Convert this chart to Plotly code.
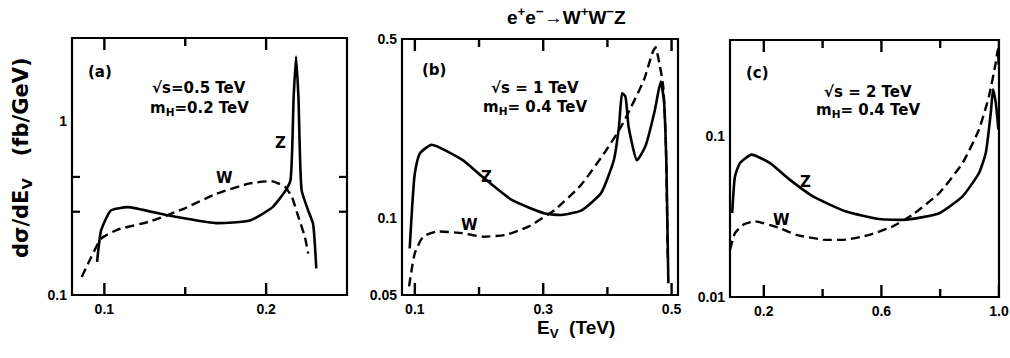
import numpy as np
import plotly.graph_objects as go

# ---------------- data ----------------
# panel (a): sqrt(s)=0.5 TeV, mH=0.2 TeV
a_z_E = [0.0955, 0.098, 0.104, 0.1145, 0.139, 0.169, 0.190, 0.204, 0.212, 0.215, 0.217, 0.2185, 0.220, 0.222, 0.226, 0.229, 0.231]
a_z_v = [0.155, 0.235, 0.306, 0.320, 0.287, 0.259, 0.268, 0.320, 0.398, 0.454, 1.36, 2.35, 1.36, 0.398, 0.306, 0.257, 0.142]
a_w_E = [0.086, 0.092, 0.098, 0.108, 0.129, 0.149, 0.169, 0.190, 0.204, 0.212, 0.216, 0.220, 0.224, 0.226]
a_w_v = [0.127, 0.166, 0.211, 0.237, 0.266, 0.313, 0.381, 0.438, 0.450, 0.416, 0.365, 0.280, 0.215, 0.173]

# panel (b): sqrt(s)=1 TeV, mH=0.4 TeV
b_z_E = [0.092, 0.100, 0.108, 0.126, 0.174, 0.205, 0.251, 0.303, 0.328, 0.359, 0.390, 0.410, 0.418, 0.423, 0.428, 0.433, 0.446, 0.459, 0.474, 0.483, 0.488, 0.492, 0.495]
b_z_v = [0.076, 0.1495, 0.179, 0.193, 0.1685, 0.145, 0.1176, 0.104, 0.1027, 0.1068, 0.1249, 0.168, 0.227, 0.307, 0.298, 0.227, 0.168, 0.190, 0.264, 0.341, 0.289, 0.159, 0.0556]
b_w_E = [0.091, 0.100, 0.113, 0.133, 0.174, 0.205, 0.241, 0.277, 0.318, 0.359, 0.395, 0.420, 0.431, 0.457, 0.470, 0.475, 0.482, 0.487, 0.491, 0.494]
b_w_v = [0.054, 0.0728, 0.0845, 0.0884, 0.0872, 0.0845, 0.0858, 0.0925, 0.1075, 0.1346, 0.179, 0.224, 0.253, 0.346, 0.440, 0.464, 0.390, 0.326, 0.20, 0.07]

# panel (c): sqrt(s)=2 TeV, mH=0.4 TeV
c_z_E = [0.0925, 0.102, 0.119, 0.158, 0.220, 0.288, 0.367, 0.480, 0.593, 0.684, 0.797, 0.876, 0.932, 0.955, 0.972, 0.980, 0.989, 0.998]
c_z_v = [0.0333, 0.0565, 0.0685, 0.0772, 0.0685, 0.0539, 0.0424, 0.0341, 0.0306, 0.0303, 0.0333, 0.0424, 0.0593, 0.079, 0.1406, 0.197, 0.1624, 0.1106]
c_w_E = [0.085, 0.102, 0.130, 0.170, 0.254, 0.311, 0.401, 0.480, 0.559, 0.638, 0.706, 0.797, 0.876, 0.932, 0.966, 0.989, 0.996, 0.999]
c_w_v = [0.0197, 0.025, 0.0282, 0.0296, 0.0269, 0.0244, 0.0228, 0.0228, 0.0244, 0.0275, 0.0326, 0.0445, 0.0685, 0.1106, 0.1786, 0.289, 0.35, 0.26]

# ticks
a_xt = [0.1, 0.2]; a_xt_txt = ["0.1", "0.2"]; a_xminor = [0.15]
b_xt = [0.1, 0.3, 0.5]; b_xt_txt = ["0.1", "0.3", "0.5"]; b_xminor = [0.2, 0.4]
c_xt = [0.2, 0.6, 1.0]; c_xt_txt = ["0.2", "0.6", "1.0"]; c_xminor = [0.4, 0.8]
a_yt = [0.1, 1]; a_yt_txt = ["0.1", "1"]; a_yminor = [0.2, 0.3, 0.4, 0.5, 0.6, 0.7, 0.8, 0.9, 2, 3]
b_yt = [0.05, 0.1, 0.5]; b_yt_txt = ["0.05", "0.1", "0.5"]; b_yminor = [0.06, 0.07, 0.08, 0.09, 0.2, 0.3, 0.4]
c_yt = [0.01, 0.1]; c_yt_txt = ["0.01", "0.1"]; c_yminor = [0.02, 0.03, 0.04, 0.05, 0.06, 0.07, 0.08, 0.09, 0.2, 0.3]

labels_a = ["(a)", "√s=0.5 TeV", "m<sub>H</sub>=0.2 TeV"]
labels_b = ["(b)", "√s = 1 TeV", "m<sub>H</sub>= 0.4 TeV"]
labels_c = ["(c)", "√s = 2 TeV", "m<sub>H</sub>= 0.4 TeV"]

W, H = 1010, 358
TICKFONT = dict(family="Liberation Sans", size=14, color="black", weight="bold")
ANNFONT = "DejaVu Sans"

def px_x(p):
    return p / W

def px_y(p):
    return 1 - p / H

fig = go.Figure()

panels = [
    dict(n="", xd=(72, 347), yd=(38, 295), xr=[0.08, 0.25], yr=[0.1, 3],
         zE=a_z_E, zv=a_z_v, wE=a_w_E, wv=a_w_v,
         xt=a_xt, xtt=a_xt_txt, xm=a_xminor, yt=a_yt, ytt=a_yt_txt, ym=a_yminor),
    dict(n="2", xd=(402, 678), yd=(39, 295), xr=[0.08, 0.51], yr=[0.05, 0.5],
         zE=b_z_E, zv=b_z_v, wE=b_w_E, wv=b_w_v,
         xt=b_xt, xtt=b_xt_txt, xm=b_xminor, yt=b_yt, ytt=b_yt_txt, ym=b_yminor),
    dict(n="3", xd=(730, 999), yd=(40, 297), xr=[0.085, 1.0], yr=[0.01, 0.4],
         zE=c_z_E, zv=c_z_v, wE=c_w_E, wv=c_w_v,
         xt=c_xt, xtt=c_xt_txt, xm=c_xminor, yt=c_yt, ytt=c_yt_txt, ym=c_yminor),
]

TICK_MAJOR, TICK_MINOR = 12, 8
layout = {}
shapes = []
for p in panels:
    xa = "x" + p["n"]
    ya = "y" + p["n"]
    fig.add_trace(go.Scatter(x=p["zE"], y=p["zv"], xaxis=xa, yaxis=ya, mode="lines",
                             line=dict(color="black", width=2.6, shape="spline", smoothing=0.5),
                             showlegend=False, hoverinfo="skip"))
    fig.add_trace(go.Scatter(x=p["wE"], y=p["wv"], xaxis=xa, yaxis=ya, mode="lines",
                             line=dict(color="black", width=2.4, dash="9px,5px", shape="spline", smoothing=0.5),
                             showlegend=False, hoverinfo="skip"))
    common = dict(showgrid=False, zeroline=False, showline=False, ticks="",
                  tickfont=TICKFONT, automargin=False, ticklabelstandoff=4)
    layout["xaxis" + p["n"]] = dict(common, domain=[px_x(p["xd"][0]), px_x(p["xd"][1])],
                                    anchor=ya, range=p["xr"], tickmode="array",
                                    tickvals=p["xt"], ticktext=p["xtt"])
    layout["yaxis" + p["n"]] = dict(common, domain=[px_y(p["yd"][1]), px_y(p["yd"][0])],
                                    anchor=xa, type="log",
                                    range=[np.log10(p["yr"][0]), np.log10(p["yr"][1])],
                                    tickmode="array", tickvals=p["yt"], ticktext=p["ytt"])
    # frame
    shapes.append(dict(type="rect", xref=xa + " domain", yref=ya + " domain",
                       x0=0, x1=1, y0=0, y1=1, line=dict(color="black", width=2.2),
                       fillcolor="rgba(0,0,0,0)", layer="above"))
    # inside ticks on all four sides, at the tick values
    for vals, ln in ((p["xt"], TICK_MAJOR), (p["xm"], TICK_MINOR)):
        for v in vals:
            for side, sgn in ((0, 1), (1, -1)):
                shapes.append(dict(type="line", xref=xa, yref=ya + " domain", ysizemode="pixel",
                                   yanchor=side, x0=v, x1=v, y0=0, y1=sgn * ln,
                                   line=dict(color="black", width=2.4), layer="above"))
    for vals, ln in ((p["yt"], TICK_MAJOR), (p["ym"], TICK_MINOR)):
        for v in vals:
            for side, sgn in ((0, 1), (1, -1)):
                shapes.append(dict(type="line", yref=ya, xref=xa + " domain", xsizemode="pixel",
                                   xanchor=side, y0=np.log10(v), y1=np.log10(v), x0=0, x1=sgn * ln,
                                   line=dict(color="black", width=2.2), layer="above"))

ann = []
def txt(x, y, s, size=15, xref="paper", yref="paper", family=ANNFONT, weight="bold"):
    ann.append(dict(x=x, y=y, text=s, xref=xref, yref=yref, showarrow=False,
                    xanchor="center", yanchor="middle",
                    font=dict(family=family, size=size, color="black", weight=weight)))

# panel texts (pixel positions)
for lab, (px0, py0), (cx, cy1, cy2) in [
        (labels_a, (100, 72), (199, 88, 108)),
        (labels_b, (434, 70), (535, 88, 107)),
        (labels_c, (757, 73), (868, 92, 111))]:
    txt(px_x(px0), px_y(py0), lab[0], 15)
    txt(px_x(cx), px_y(cy1), lab[1], 15)
    txt(px_x(cx), px_y(cy2), lab[2], 15)

# curve labels in data coordinates (log10 for y)
txt(0.209, np.log10(0.75), "Z", 15, "x", "y")
txt(0.174, np.log10(0.47), "W", 15, "x", "y")
txt(0.211, np.log10(0.145), "Z", 15, "x2", "y2")
txt(0.185, np.log10(0.094), "W", 15, "x2", "y2")
txt(0.343, np.log10(0.052), "Z", 15, "x3", "y3")
txt(0.259, np.log10(0.030), "W", 15, "x3", "y3")

# titles
txt(px_x(566), px_y(16), "e<sup>+</sup>e<sup>−</sup>→W<sup>+</sup>W<sup>−</sup>Z", 19,
    family="Liberation Sans")
txt(px_x(576), px_y(329), "E<sub>V</sub>  (TeV)", 19, family="Liberation Sans")
ann.append(dict(x=px_x(22), y=px_y(158), text="dσ/dE<sub>V</sub>   (fb/GeV)", xref="paper", yref="paper",
                showarrow=False, textangle=-90, xanchor="center", yanchor="middle",
                font=dict(family=ANNFONT, size=21, color="black", weight="bold")))

fig.update_layout(width=W, height=H, margin=dict(l=0, r=0, t=0, b=0),
                  paper_bgcolor="white", plot_bgcolor="white", annotations=ann, shapes=shapes,
                  **layout)

fig.write_html("out.html", config={"displayModeBar": False},
               post_script="document.body.style.margin='0';")
